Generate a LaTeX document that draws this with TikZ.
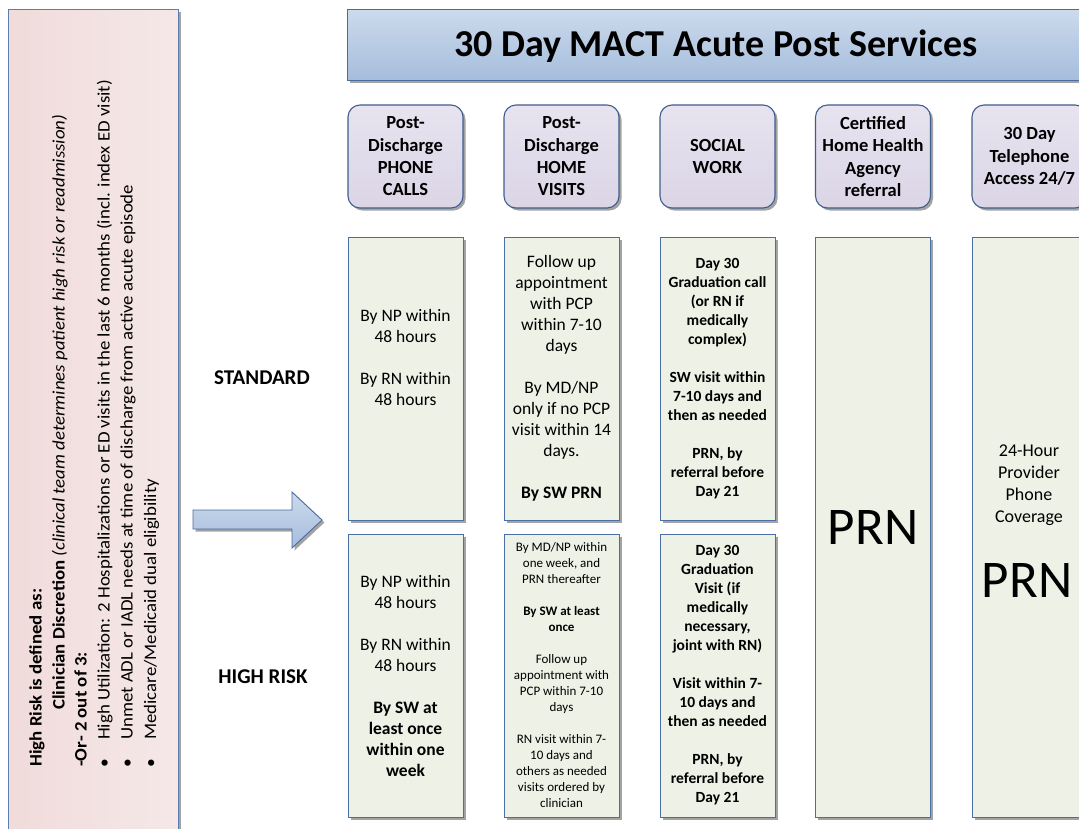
\documentclass[tikz,border=0pt]{standalone}
\usepackage{fontspec}
\usepackage{graphicx}
\setmainfont{Carlito}
\usetikzlibrary{shadows}
\definecolor{panelL}{HTML}{F1DBDB}
\definecolor{panelR}{HTML}{F5E8E8}
\definecolor{panelB}{HTML}{5B7DB1}
\definecolor{titleT}{HTML}{CCDAEC}
\definecolor{titleB}{HTML}{A5BDDC}
\definecolor{blueB}{HTML}{4A6B9E}
\definecolor{headT}{HTML}{E7E3EF}
\definecolor{headBot}{HTML}{DBD5E6}
\definecolor{headB}{HTML}{3F5E8C}
\definecolor{cellF}{HTML}{EEF2E6}
\definecolor{cellB}{HTML}{4A6EA6}
\definecolor{shadc}{HTML}{A3A3A3}
\newlength\bulw
\begin{document}
\settowidth\bulw{\fontsize{17.5}{20}\selectfont High Utilization: 2 Hospitalizations or ED visits in the last 6 months (incl. index ED visit)}%
\pgfmathsetmacro\lsc{660/\bulw}%
\begin{tikzpicture}[x=1pt,y=-1pt,
  myshadow/.style={drop shadow={shadow xshift=2.5pt,shadow yshift=-2.5pt,fill=shadc,opacity=1}},
  panel/.style={draw=panelB,line width=0.8pt,left color=panelL,right color=panelR,inner sep=0pt,myshadow},
  titlebox/.style={draw=blueB,line width=0.9pt,top color=titleT,bottom color=titleB,inner sep=0pt,myshadow},
  hdr/.style={draw=headB,line width=1.1pt,top color=headT,bottom color=headBot,rounded corners=12pt,
    minimum width=115pt,minimum height=103pt,inner sep=0pt,align=center,
    font=\bfseries\fontsize{18.5}{22.3}\selectfont,myshadow},
  cell/.style={draw=cellB,line width=0.9pt,fill=cellF,minimum width=115pt,inner sep=0pt,myshadow},
  tA/.style={align=center,inner sep=0pt,font=\fontsize{17.5}{21}\selectfont},
  tB/.style={align=center,inner sep=0pt,font=\bfseries\fontsize{15.5}{19}\selectfont},
  tC/.style={align=center,inner sep=0pt,font=\fontsize{13}{16}\selectfont},
  tD/.style={align=center,inner sep=0pt,font=\fontsize{18}{22}\selectfont},
  big/.style={inner sep=0pt,font=\fontsize{53}{60}\selectfont},
  lab/.style={inner sep=0pt,font=\bfseries\fontsize{21}{25}\selectfont},
  ltxt/.style={rotate=90,anchor=base west,inner sep=0pt,font=\fontsize{17.5}{20}\selectfont},
  arrowsty/.style={draw=blueB,line width=0.9pt,top color=titleT,bottom color=titleB,myshadow}]
\useasboundingbox (0,0) rectangle (1079,828);
\fill[white] (0,0) rectangle (1079,828);
\clip (0,0) rectangle (1079,828);

% left panel
\node[panel,minimum width=170pt,minimum height=835pt,anchor=north west] (panel) at (8,9) {};
\node[ltxt] (l1) at (41.5,767) {\scalebox{\lsc}[1]{\bfseries High Risk is defined as:}};
\node[ltxt] (l2) at (64.5,710) {\scalebox{\lsc}[1]{{\bfseries Clinician Discretion} \textit{(clinical team determines patient high risk or readmission)}}};
\node[ltxt] (l3) at (86.5,767) {\scalebox{\lsc}[1]{\bfseries -Or- 2 out of 3:}};
\node[ltxt] (b1) at (109.5,768) {\textbullet};
\node[ltxt] (b2) at (132.7,768) {\textbullet};
\node[ltxt] (b3) at (156,768) {\textbullet};
\node[ltxt] (l4) at (109.5,740) {\scalebox{\lsc}[1]{High Utilization: 2 Hospitalizations or ED visits in the last 6 months (incl. index ED visit)}};
\node[ltxt] (l5) at (132.7,740) {\scalebox{\lsc}[1]{Unmet ADL or IADL needs at time of discharge from active acute episode}};
\node[ltxt] (l6) at (156,740) {\scalebox{\lsc}[1]{Medicare/Medicaid dual eligibility}};

% arrow
\draw[arrowsty] (193,510) -- (292,510) -- (292,492) -- (322,520) -- (292,548) -- (292,529) -- (193,529) -- cycle;

% row labels
\node[lab] (std) at (262,378) {STANDARD};
\node[lab] (hr) at (263,677) {HIGH RISK};

% title
\node[titlebox,minimum width=743pt,minimum height=71pt,anchor=north west] (title) at (347,9) {};
\node[inner sep=0pt,font=\bfseries\fontsize{38}{44}\selectfont] (titletext) at (716,46) {30 Day MACT Acute Post Services};

% headers
\node[hdr] (h1) at (405.5,156.5) {Post-\\Discharge\\PHONE\\CALLS};
\node[hdr] (h2) at (561.5,156.5) {Post-\\Discharge\\HOME\\VISITS};
\node[hdr] (h3) at (717.5,156.5) {SOCIAL\\WORK};
\node[hdr] (h4) at (873,156.5) {Certified\\Home Health\\Agency\\referral};
\node[hdr] (h5) at (1029.5,156.5) {30 Day\\Telephone\\Access 24/7};

% cells
\node[cell,minimum height=283pt] (c1s) at (405.5,378.5) {};
\node[cell,minimum height=283pt] (c2s) at (561.5,378.5) {};
\node[cell,minimum height=283pt] (c3s) at (717.5,378.5) {};
\node[cell,minimum height=283pt] (c1h) at (405.5,675.5) {};
\node[cell,minimum height=283pt] (c2h) at (561.5,675.5) {};
\node[cell,minimum height=283pt] (c3h) at (717.5,675.5) {};
\node[cell,minimum height=580pt] (c4) at (873,527) {};
\node[cell,minimum height=580pt] (c5) at (1029.5,527) {};

% cell texts
\node[tA] (t1s) at (405.5,357) {By NP within\\48 hours\\[21pt]By RN within\\48 hours};
\node[tA] (t2s) at (561.5,378) {Follow up\\appointment\\with PCP\\within 7-10\\days\\[21pt]By MD/NP\\only if no PCP\\visit within 14\\days.\\[21pt]\textbf{By SW PRN}};
\node[tB] (t3s) at (717.5,378.5) {Day 30\\Graduation call\\(or RN if\\medically\\complex)\\[19pt]SW visit within\\7-10 days and\\then as needed\\[19pt]PRN, by\\referral before\\Day 21};
\node[tA] (t1h) at (405.5,675.5) {By NP within\\48 hours\\[21pt]By RN within\\48 hours\\[21pt]\textbf{By SW at}\\\textbf{least once}\\\textbf{within one}\\\textbf{week}};
\node[tC] (t2h) at (561.5,675.5) {By MD/NP within\\one week, and\\PRN thereafter\\[16pt]\textbf{By SW at least}\\\textbf{once}\\[16pt]Follow up\\appointment with\\PCP within 7-10\\days\\[16pt]RN visit within 7-\\10 days and\\others as needed\\visits ordered by\\clinician};
\node[tB] (t3h) at (717.5,675.5) {Day 30\\Graduation\\Visit (if\\medically\\necessary,\\joint with RN)\\[19pt]Visit within 7-\\10 days and\\then as needed\\[19pt]PRN, by\\referral before\\Day 21};
\node[big] (t4) at (873,527) {PRN};
\node[tD] (t5a) at (1029,485.5) {24-Hour\\Provider\\Phone\\Coverage};
\node[big] (t5b) at (1027,580) {PRN};
\end{tikzpicture}
\end{document}
